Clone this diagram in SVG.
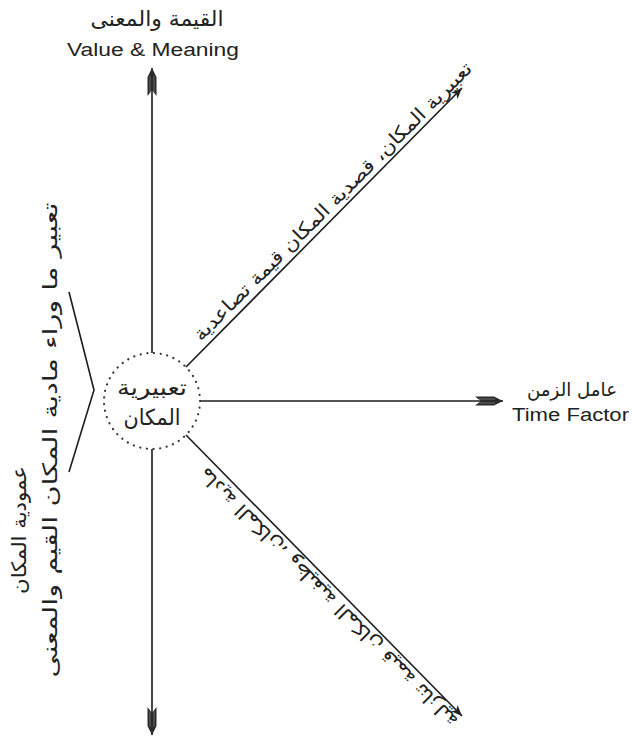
<svg xmlns="http://www.w3.org/2000/svg" width="632" height="736" viewBox="0 0 632 736">
<style>
.ar{font-family:"DejaVu Sans","Noto Sans",sans-serif;fill:#222}
.en{font-family:"Liberation Sans",Arial,sans-serif;fill:#222}
.ln{stroke:#1c1c1c;stroke-width:1.6;fill:none}
.ring{fill:none;stroke:#333;stroke-width:2.2;stroke-linecap:round;stroke-dasharray:0.1 6.6}
</style>
<defs>
<marker id="fl" markerUnits="userSpaceOnUse" markerWidth="40" markerHeight="20" viewBox="-32 -10 36 20" refX="0" refY="0" orient="auto" overflow="visible">
<path d="M0,0 L-9,-4.5 L-28,-4.5 L-22,0 L-28,4.5 L-9,4.5 Z" fill="#2a2a2a"/>
<path d="M-8,-2 L-24,-2 M-8,2 L-24,2" stroke="#888" stroke-width="0.7"/>
</marker>
<marker id="tp" markerUnits="userSpaceOnUse" markerWidth="20" markerHeight="14" viewBox="-14 -7 16 14" refX="0" refY="0" orient="auto" overflow="visible">
<path d="M0,0 L-11,-4.5 L-8,0 L-11,4.5 Z" fill="#222"/>
</marker>
</defs>

<g id="connectors">
<line class="ln" x1="152" y1="353" x2="152" y2="68" marker-end="url(#fl)"/>
<line class="ln" x1="152" y1="449" x2="152" y2="735" marker-end="url(#fl)"/>
<line class="ln" x1="200" y1="401" x2="503" y2="401" marker-end="url(#fl)"/>
<line class="ln" x1="186" y1="367" x2="462" y2="88" marker-end="url(#tp)"/>
<line class="ln" x1="186" y1="435" x2="462" y2="716" marker-end="url(#tp)"/>
</g>

<g id="center">
<circle class="ring" cx="152" cy="401" r="48"/>
<text class="ar" x="152" y="395" font-size="22" text-anchor="middle" textLength="70" lengthAdjust="spacingAndGlyphs">تعبيرية</text>
<text class="ar" x="152" y="425" font-size="22" text-anchor="middle" textLength="57" lengthAdjust="spacingAndGlyphs">المكان</text>
</g>

<g id="value-meaning">
<text class="ar" x="157" y="26" font-size="21" text-anchor="middle" textLength="133" lengthAdjust="spacingAndGlyphs">القيمة والمعنى</text>
<text class="en" x="153" y="56" font-size="18" text-anchor="middle" textLength="172" lengthAdjust="spacingAndGlyphs">Value &amp; Meaning</text>
</g>

<g id="time-factor">
<text class="ar" x="572" y="396" font-size="19" text-anchor="middle" textLength="90" lengthAdjust="spacingAndGlyphs">عامل الزمن</text>
<text class="en" x="512" y="421" font-size="18" textLength="117" lengthAdjust="spacingAndGlyphs">Time Factor</text>
</g>

<g id="upper-diagonal-label">
<text class="ar" transform="translate(337,206) rotate(-45)" font-size="19" text-anchor="middle" textLength="385" lengthAdjust="spacingAndGlyphs">تعبيرية المكان، قصدية المكان قيمة تصاعدية</text>
</g>

<g id="lower-diagonal-label">
<text class="ar" transform="translate(333,593) rotate(225)" font-size="19" text-anchor="middle" textLength="358" lengthAdjust="spacingAndGlyphs">مادية المكان، وظيفية المكان قيمة تنازلية</text>
</g>

<g id="verticality">
<polyline class="ln" points="69,292 94,390 69,472" stroke-width="1.3"/>
<text class="ar" transform="translate(26,530) rotate(-90)" font-size="20" text-anchor="middle" textLength="128" lengthAdjust="spacingAndGlyphs">عمودية المكان</text>
<text class="ar" transform="translate(57,440) rotate(-90)" font-size="20" text-anchor="middle" textLength="475" lengthAdjust="spacingAndGlyphs">تعبير ما وراء مادية المكان القيم والمعنى</text>
</g>
</svg>
